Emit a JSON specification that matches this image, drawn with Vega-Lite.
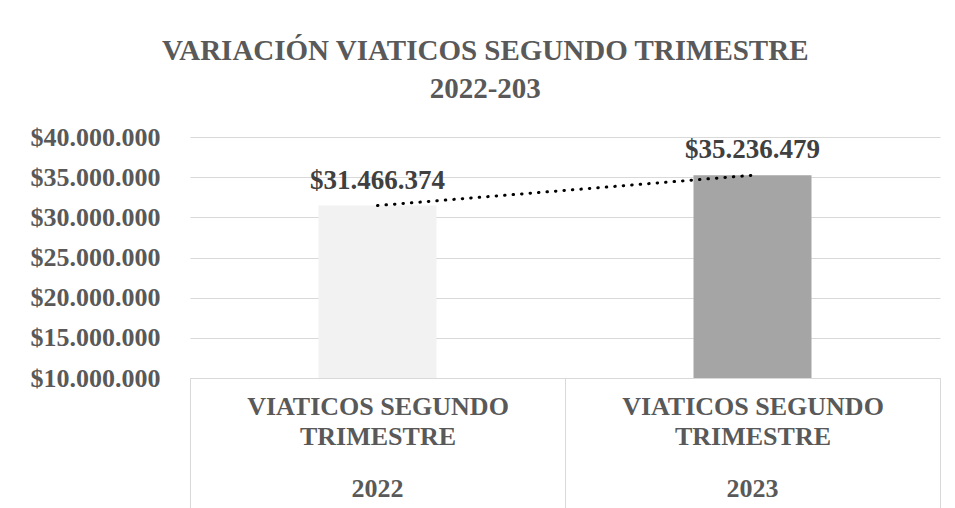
{
  "$schema": "https://vega.github.io/schema/vega-lite/v6.json",
  "width": 750,
  "height": 241,
  "padding": {"left": 30, "right": 15, "top": 37, "bottom": 0},
  "background": "white",
  "config": {
    "font": "Liberation Serif",
    "view": {"stroke": null},
    "locale": {"number": {"decimal": ",", "thousands": ".", "grouping": [3], "currency": ["$", ""]}}
  },
  "title": {
    "text": ["VARIACIÓN VIATICOS SEGUNDO TRIMESTRE", "2022-203"],
    "fontSize": 29,
    "fontWeight": "bold",
    "font": "Liberation Serif",
    "color": "#595959",
    "lineHeight": 38,
    "anchor": "middle",
    "frame": "bounds",
    "offset": 20
  },
  "data": {
    "values": [
      {"anio": "2022", "categoria": "VIATICOS SEGUNDO TRIMESTRE", "valor": 31466374},
      {"anio": "2023", "categoria": "VIATICOS SEGUNDO TRIMESTRE", "valor": 35236479}
    ]
  },
  "encoding": {
    "y": {
      "field": "valor",
      "type": "quantitative",
      "scale": {"domain": [10000000, 40000000], "nice": false, "zero": false},
      "axis": {
        "values": [10000000, 15000000, 20000000, 25000000, 30000000, 35000000, 40000000],
        "format": "$,.0f",
        "title": null,
        "domain": false,
        "ticks": false,
        "grid": true,
        "gridColor": "#d9d9d9",
        "gridWidth": 1,
        "labelFont": "Liberation Serif",
        "labelFontSize": 26,
        "labelFontWeight": "bold",
        "labelColor": "#595959",
        "labelPadding": 30,
        "labelLimit": 400
      }
    }
  },
  "layer": [
    {
      "mark": {"type": "bar", "width": 118},
      "encoding": {
        "x": {
          "field": "anio",
          "type": "nominal",
          "scale": {"paddingInner": 0, "paddingOuter": 0},
          "axis": {
            "orient": "bottom",
            "title": null,
            "labelAngle": 0,
            "labelExpr": "datum.extra ? '' : ['VIATICOS SEGUNDO', 'TRIMESTRE']",
            "domainColor": "#d9d9d9",
            "tickBand": "extent",
            "tickSize": 130,
            "tickColor": "#d9d9d9",
            "labelPadding": -115,
            "labelBaseline": "top",
            "labelLineHeight": 30,
            "labelFont": "Liberation Serif",
            "labelFontSize": 26,
            "labelFontWeight": "bold",
            "labelColor": "#595959",
            "labelLimit": 0,
            "labelOverlap": false
          }
        },
        "y2": {"datum": 10000000},
        "color": {
          "field": "anio",
          "type": "nominal",
          "scale": {"domain": ["2022", "2023"], "range": ["#F2F2F2", "#A5A5A5"]},
          "legend": null
        }
      }
    },
    {
      "mark": {"type": "text", "dy": -25, "baseline": "middle", "align": "center", "fontSize": 27, "fontWeight": "bold", "font": "Liberation Serif", "color": "#404040"},
      "encoding": {
        "x": {
          "field": "anio",
          "type": "nominal",
          "axis": {
            "orient": "bottom",
            "title": null,
            "labelAngle": 0,
            "domain": false,
            "ticks": false,
            "labelPadding": 97,
            "labelBaseline": "top",
            "labelFont": "Liberation Serif",
            "labelFontSize": 26,
            "labelFontWeight": "bold",
            "labelColor": "#595959",
            "labelLimit": 0,
            "labelOverlap": false
          }
        },
        "text": {"field": "valor", "type": "quantitative", "format": "$,.0f"}
      }
    },
    {
      "mark": {"type": "line", "color": "black", "strokeWidth": 3, "strokeCap": "round", "strokeDash": [0.5, 8]},
      "encoding": {
        "x": {"field": "anio", "type": "nominal", "axis": null}
      }
    }
  ],
  "resolve": {"axis": {"x": "independent"}}
}
